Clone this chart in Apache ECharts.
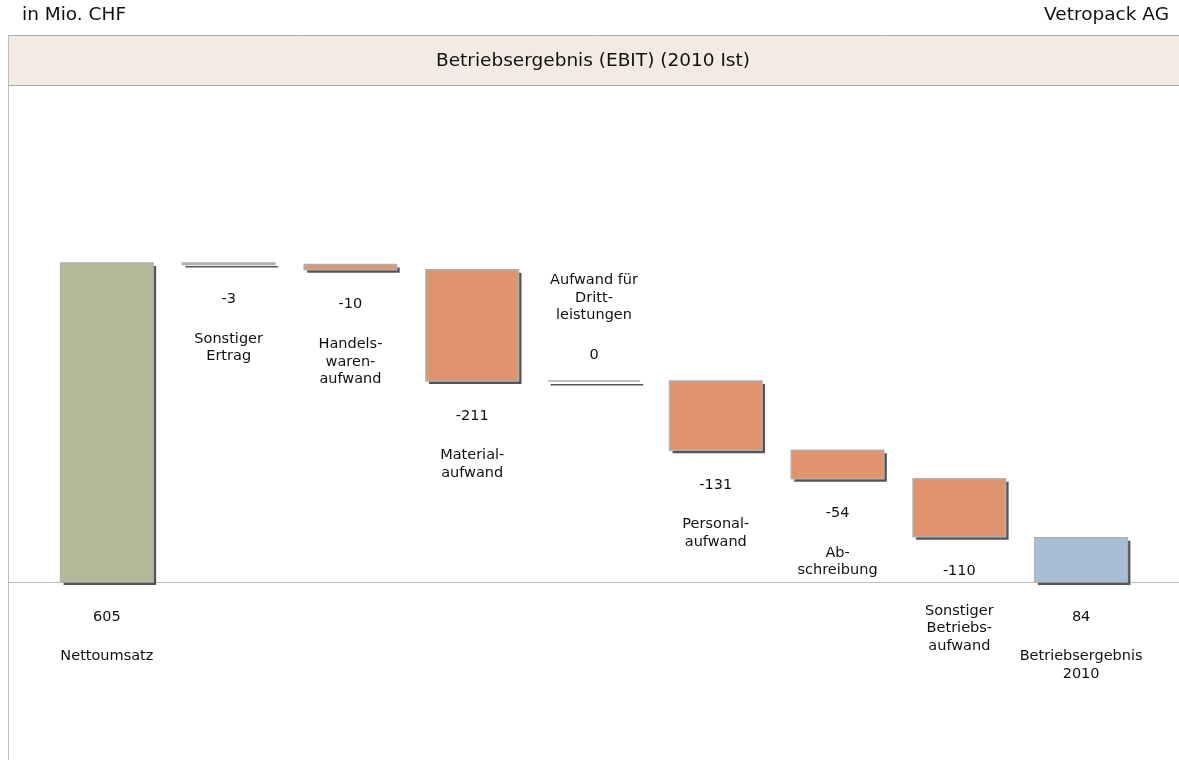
<!DOCTYPE html>
<html>
<head>
<meta charset="utf-8">
<script src="https://cdn.jsdelivr.net/npm/echarts@6/dist/echarts.min.js"></script>
<style>
  html, body { margin: 0; padding: 0; background: #fff; }
  #chart { width: 1179px; height: 760px; }
</style>
</head>
<body>
<div id="chart"></div>
<script>
// Werte in Mio. CHF
const categories = ['Nettoumsatz', 'Sonstiger\nErtrag', 'Handels-\nwaren-\naufwand', 'Material-\naufwand',
  'Aufwand für\nDritt-\nleistungen', 'Personal-\naufwand', 'Ab-\nschreibung', 'Sonstiger\nBetriebs-\naufwand',
  'Betriebsergebnis\n2010']
const values = [605, -3, -10, -211, 0, -131, -54, -110, 84]
const kinds = ['start', 'delta', 'delta', 'delta', 'delta', 'delta', 'delta', 'delta', 'total']

const colors = { start: '#b2b996', delta: '#e0946e', total: '#a6bfd7' }
const FONT = 'DejaVu Sans'

// Wasserfall: [index, unten, oben]
const bars = []
let running = 0
values.forEach((v, i) => {
  if (kinds[i] === 'delta') {
    bars.push([i, running + v, running])
    running += v
  } else {
    if (kinds[i] === 'start') running = v
    bars.push([i, 0, v])
  }
})

const rich = {
  v: { fontSize: 14.5, lineHeight: 18, fill: '#111', fontFamily: FONT },
  g: { fontSize: 14.5, lineHeight: 22 },
  c: { fontSize: 14.5, lineHeight: 17.5, fill: '#111', fontFamily: FONT }
}

function labelText(i) {
  const catLines = categories[i].split('\n').map(s => '{c|' + s + '}')
  if (values[i] === 0) return catLines.join('\n') + '\n{g| }\n{v|' + values[i] + '}'
  return '{v|' + values[i] + '}\n{g| }\n' + catLines.join('\n')
}

function renderItem(params, api) {
  const i = api.value(0)
  const top = api.coord([i, api.value(2)])
  const bot = api.coord([i, api.value(1)])
  const w = api.size([1, 0])[0] * 0.76
  const x = top[0] - w / 2
  const y = top[1]
  const h = bot[1] - top[1]
  const zero = values[i] === 0
  return {
    type: 'group',
    children: [
      { type: 'rect', shape: { x: x + 3, y: y + 3, width: w, height: Math.max(h, 1.5) }, style: { fill: '#555555' } },
      {
        type: 'rect',
        shape: { x: x, y: y, width: w, height: h },
        style: { fill: colors[kinds[i]], stroke: '#b0b0b0', lineWidth: 1.5 },
        textContent: {
          style: { text: labelText(i), rich: rich, fill: '#111', fontFamily: FONT, fontSize: 14.5, align: 'center' }
        },
        textConfig: { position: zero ? 'top' : 'bottom', distance: zero ? 16 : 25 }
      }
    ]
  }
}

const chart = echarts.init(document.getElementById('chart'))
chart.setOption({
  animation: false,
  textStyle: { fontFamily: FONT },
  graphic: [
    { type: 'text', left: 22, top: 6, style: { text: 'in Mio. CHF', font: '18.5px ' + FONT, fill: '#111' } },
    { type: 'text', right: 10, top: 6, style: { text: 'Vetropack AG', font: '18.5px ' + FONT, fill: '#111' } },
    { type: 'rect', shape: { x: 8, y: 35, width: 1171, height: 51 }, style: { fill: '#f3ebe1', stroke: null }, z: -1 },
    { type: 'line', shape: { x1: 8, y1: 35.5, x2: 1179, y2: 35.5 }, style: { stroke: '#aaaaaa', lineWidth: 1 } },
    { type: 'line', shape: { x1: 8, y1: 85.5, x2: 1179, y2: 85.5 }, style: { stroke: '#aaaaaa', lineWidth: 1 } },
    { type: 'line', shape: { x1: 8.5, y1: 35, x2: 8.5, y2: 760 }, style: { stroke: '#bbbbbb', lineWidth: 1 } },
    { type: 'line', shape: { x1: 8, y1: 582.5, x2: 1179, y2: 582.5 }, style: { stroke: '#bbbbbb', lineWidth: 1 }, z: -1 },
    { type: 'text', x: 593, y: 61, style: { text: 'Betriebsergebnis (EBIT) (2010 Ist)', font: '18.5px ' + FONT,
      fill: '#111', align: 'center', verticalAlign: 'middle' } }
  ],
  grid: { left: 46, right: 37, top: 263, bottom: 178 },
  xAxis: { type: 'category', data: categories, show: false },
  yAxis: { type: 'value', min: 0, max: 605, show: false },
  series: [{
    type: 'custom',
    renderItem: renderItem,
    encode: { x: 0, y: [1, 2] },
    data: bars
  }]
})
</script>
</body>
</html>
